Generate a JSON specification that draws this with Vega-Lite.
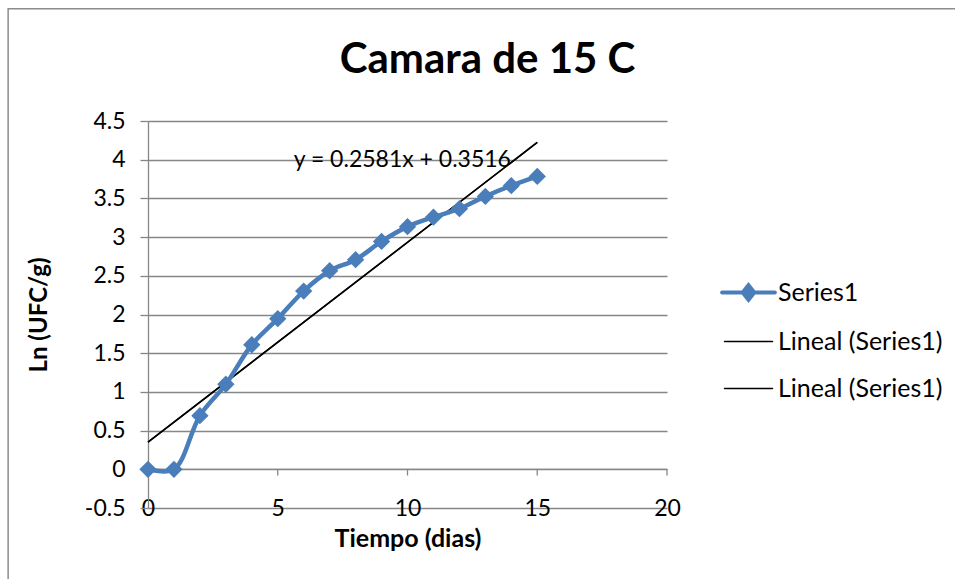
{
  "$schema": "https://vega.github.io/schema/vega-lite/v6.json",
  "autosize": {"type": "none"},
  "width": 519,
  "height": 387,
  "padding": {"left": 148, "top": 121, "right": 288, "bottom": 71},
  "background": "white",
  "title": {"text": "Camara de 15 C", "font": "Lato", "fontSize": 42, "fontWeight": "bold", "color": "#000", "anchor": "middle", "frame": "group", "dx": 80, "offset": -74},
  "config": {
    "view": {"stroke": null},
    "axis": {"labelFont": "Lato", "titleFont": "Lato", "labelColor": "#000", "titleColor": "#000"}
  },
  "datasets": {
    "series": [
      {"t": 0, "v": 0, "s": "Series1"},
      {"t": 1, "v": 0, "s": "Series1"},
      {"t": 2, "v": 0.693, "s": "Series1"},
      {"t": 3, "v": 1.099, "s": "Series1"},
      {"t": 4, "v": 1.609, "s": "Series1"},
      {"t": 5, "v": 1.946, "s": "Series1"},
      {"t": 6, "v": 2.303, "s": "Series1"},
      {"t": 7, "v": 2.565, "s": "Series1"},
      {"t": 8, "v": 2.708, "s": "Series1"},
      {"t": 9, "v": 2.944, "s": "Series1"},
      {"t": 10, "v": 3.135, "s": "Series1"},
      {"t": 11, "v": 3.258, "s": "Series1"},
      {"t": 12, "v": 3.367, "s": "Series1"},
      {"t": 13, "v": 3.526, "s": "Series1"},
      {"t": 14, "v": 3.664, "s": "Series1"},
      {"t": 15, "v": 3.784, "s": "Series1"}
    ],
    "trend": [
      {"t": 0, "v": 0.3516, "s": "LinA"},
      {"t": 15, "v": 4.2231, "s": "LinA"},
      {"t": 0, "v": 0.3516, "s": "LinB"},
      {"t": 15, "v": 4.2231, "s": "LinB"}
    ],
    "ticks": [{"t": 0}, {"t": 5}, {"t": 10}, {"t": 15}, {"t": 20}],
    "eq": [{"t": 9.8, "v": 3.99, "label": "y = 0.2581x + 0.3516"}]
  },
  "layer": [
    {
      "data": {"values": [{}]},
      "mark": {"type": "rect", "fill": null, "stroke": "#8c8c8c", "strokeWidth": 1.5},
      "encoding": {
        "x": {"datum": -5.39, "type": "quantitative", "scale": {"domain": [0, 20], "nice": false}, "axis": {"values": [0, 5, 10, 15, 20], "tickCount": 20, "title": "Tiempo (dias)", "titleFontSize": 25, "titleFontWeight": "bold", "titlePadding": 6, "labelFontSize": 23, "labelBaseline": "middle", "labelPadding": 0, "ticks": false, "domain": false, "grid": false, "labelFlush": false, "labelOverlap": false}},
        "x2": {"datum": 32},
        "y": {"datum": 5.95, "type": "quantitative", "scale": {"domain": [-0.5, 4.5], "nice": false}, "axis": {"values": [-0.5, 0, 0.5, 1, 1.5, 2, 2.5, 3, 3.5, 4, 4.5], "tickCount": 20, "labelExpr": "'' + datum.value", "title": "Ln (UFC/g)", "titleFontSize": 24, "titleFontWeight": "bold", "titlePadding": 33, "labelFontSize": 23, "labelPadding": 15, "tickSize": 8, "tickColor": "#868686", "tickWidth": 1.3, "domainColor": "#868686", "domainWidth": 1.3, "grid": true, "gridColor": "#868686", "gridWidth": 1.3, "labelFlush": false, "labelOverlap": false}},
        "y2": {"datum": -1.6}
      }
    },
    {
      "data": {"values": [{}]},
      "mark": {"type": "rule", "stroke": "#868686", "strokeWidth": 1.3},
      "encoding": {"x": {"datum": 0, "type": "quantitative"}, "x2": {"datum": 20}, "y": {"datum": 0, "type": "quantitative"}}
    },
    {
      "data": {"name": "ticks"},
      "mark": {"type": "rule", "stroke": "#868686", "strokeWidth": 1.3},
      "encoding": {"x": {"field": "t", "type": "quantitative"}, "y": {"datum": 0, "type": "quantitative"}, "y2": {"datum": -0.08}}
    },
    {
      "data": {"name": "trend"},
      "mark": {"type": "line", "strokeWidth": 1.5},
      "encoding": {
        "x": {"field": "t", "type": "quantitative"},
        "y": {"field": "v", "type": "quantitative"},
        "color": {"field": "s", "type": "nominal"}
      }
    },
    {
      "data": {"name": "series"},
      "mark": {"type": "line", "strokeWidth": 4.5, "interpolate": "catmull-rom", "strokeCap": "round", "strokeJoin": "round"},
      "encoding": {
        "x": {"field": "t", "type": "quantitative"},
        "y": {"field": "v", "type": "quantitative"},
        "color": {
          "field": "s", "type": "nominal",
          "scale": {"domain": ["Series1", "LinA", "LinB"], "range": ["#4a7ebb", "#000000", "#000000"]},
          "legend": {
            "orient": "none", "legendX": 588, "legendY": 159, "title": null,
            "labelExpr": "datum.value == 'Series1' ? 'Series1' : 'Lineal (Series1)'",
            "labelFont": "Lato", "labelFontSize": 25, "labelColor": "#000", "labelOffset": 17, "labelLimit": 400,
            "symbolType": "stroke", "symbolSize": 2304, "rowPadding": 21, "padding": 0,
            "encode": {"symbols": {"update": {
              "shape": {"signal": "datum.value == 'Series1' ? 'M-1.1,0L1.1,0M-0.24,0L0,-0.3L0.24,0L0,0.3Z' : 'M-1,0L1,0'"},
              "strokeWidth": {"signal": "datum.value == 'Series1' ? 4 : 1.5"},
              "fill": {"signal": "datum.value == 'Series1' ? '#4a7ebb' : 'transparent'"},
              "strokeCap": {"value": "round"}
            }}}
          }
        }
      }
    },
    {
      "data": {"name": "series"},
      "mark": {"type": "point", "shape": "diamond", "filled": true, "size": 300, "opacity": 1, "color": "#4a7ebb"},
      "encoding": {
        "x": {"field": "t", "type": "quantitative"},
        "y": {"field": "v", "type": "quantitative"}
      }
    },
    {
      "data": {"name": "eq"},
      "mark": {"type": "text", "font": "Lato", "fontSize": 23, "color": "#000", "align": "center", "baseline": "middle"},
      "encoding": {
        "x": {"field": "t", "type": "quantitative"},
        "y": {"field": "v", "type": "quantitative"},
        "text": {"field": "label"}
      }
    }
  ]
}
